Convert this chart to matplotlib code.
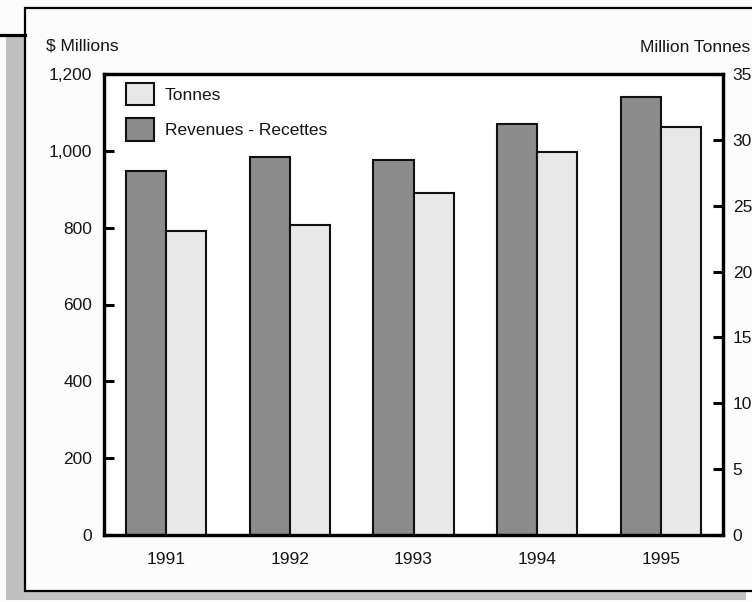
import matplotlib
matplotlib.use("Agg")
import matplotlib.pyplot as plt
from matplotlib.patches import Rectangle, Patch
from matplotlib.lines import Line2D
import numpy as np

years = ["1991", "1992", "1993", "1994", "1995"]
revenues = [948, 983, 976, 1070, 1141]          # $ Millions
tonnes = [23.1, 23.5, 26.0, 29.1, 31.0]          # Million Tonnes
left_ticks = [0, 200, 400, 600, 800, 1000, 1200]
right_ticks = [0, 5, 10, 15, 20, 25, 30, 35]

plt.rcParams["font.family"] = ["Liberation Sans", "DejaVu Sans"]
TXT = "#151515"
FS = 12.5

W, H = 752, 602
fig = plt.figure(figsize=(W / 100, H / 100), dpi=100)
fig.patch.set_facecolor("#fbfbfb")


def px_rect(x0, y0, x1, y1, **kw):
    return Rectangle((x0 / W, 1 - y1 / H), (x1 - x0) / W, (y1 - y0) / H,
                     transform=fig.transFigure, **kw)


# drop shadow and framed panel, kept underneath the axes
fig.add_artist(px_rect(6, 34, 746, 600, facecolor="#c0c0c0", edgecolor="none", zorder=-3))
fig.add_artist(px_rect(25, 8, 770, 591, facecolor="#fcfcfc", edgecolor="black",
                       linewidth=1.6, zorder=-2))
fig.add_artist(Line2D([0, 25 / W], [1 - 34.5 / H, 1 - 34.5 / H], transform=fig.transFigure,
                      color="black", linewidth=2.3, zorder=-1))

ax = fig.add_axes([104 / W, 1 - 535 / H, (723 - 104) / W, (535 - 74) / H])
ax.set_facecolor("white")
ax2 = ax.twinx()

x = np.arange(len(years))
bw = 0.324
ax.bar(x - bw / 2, revenues, width=bw, color="#8c8c8c", edgecolor="#111111",
       linewidth=1.5, zorder=2)
ax2.bar(x + bw / 2, tonnes, width=bw, color="#e8e8e8", edgecolor="#111111",
        linewidth=1.5, zorder=2)

ax.set_xlim(-0.5, len(years) - 0.5)
ax.set_ylim(0, 1200)
ax2.set_ylim(0, 35)
ax.set_yticks(left_ticks)
ax.set_yticklabels([f"{v:,}" for v in left_ticks])
ax2.set_yticks(right_ticks)
ax2.set_yticklabels([str(v) for v in right_ticks])
ax.set_xticks(x)
ax.set_xticklabels(years)

for a in (ax, ax2):
    for sp in a.spines.values():
        sp.set_linewidth(2.3)
        sp.set_color("black")
ax.tick_params(axis="y", direction="in", length=7.5, width=2.2, pad=8.5,
               labelsize=FS, labelcolor=TXT, color="black")
ax2.tick_params(axis="y", direction="in", length=7.5, width=2.2, pad=7,
                labelsize=FS, labelcolor=TXT, color="black")
ax.tick_params(axis="x", length=0, pad=12, labelsize=FS, labelcolor=TXT)

fig.text(46 / W, 1 - 46 / H, "$ Millions", ha="left", va="center", fontsize=FS, color=TXT)
fig.text(750 / W, 1 - 47 / H, "Million Tonnes", ha="right", va="center", fontsize=FS, color=TXT)

handles = [Patch(facecolor="#e8e8e8", edgecolor="#111111", linewidth=1.5, label="Tonnes"),
           Patch(facecolor="#8c8c8c", edgecolor="#111111", linewidth=1.5,
                 label="Revenues - Recettes")]
leg = ax2.legend(handles=handles, loc="upper left", bbox_to_anchor=(0.016, 1.0065),
                 frameon=False, fontsize=FS, handlelength=1.6, handleheight=1.6,
                 handletextpad=0.65, labelspacing=0.75, borderaxespad=0.3)
for t in leg.get_texts():
    t.set_color(TXT)

fig.savefig("out.png", dpi=100, facecolor=fig.get_facecolor())
